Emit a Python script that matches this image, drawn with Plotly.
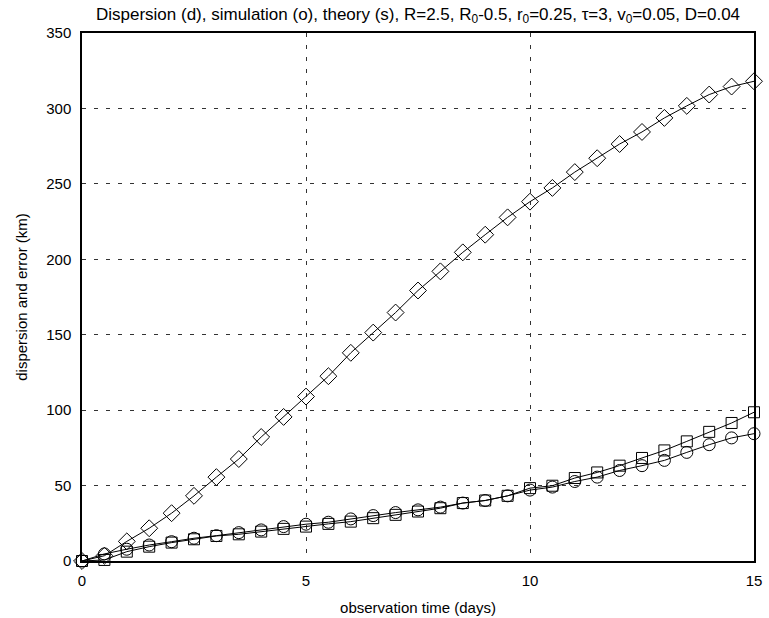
import plotly.graph_objects as go

# observation times (days), sampled every half day
days = [i * 0.5 for i in range(31)]

# dispersion (d)
dispersion = [0, 3.5, 13, 21.7, 31.7, 43.2, 55.6, 67.6, 82.2, 95.5,
              109, 122.5, 138, 151.4, 164.7, 179.3, 192, 204.6, 216.3, 227.8,
              238.2, 247.3, 257.8, 267, 276.4, 284.4, 293.7, 301.7, 309.2, 314.5,
              318]

# simulation error (o)
simulation = [0, 4.7, 7.8, 10.6, 12.8, 15.1, 16.8, 18.8, 20.6, 22.8,
              24.4, 25.7, 27.9, 30.1, 32.1, 33.9, 35.7, 38.4, 40.1, 43.2,
              47.0, 49.0, 52.7, 55.6, 60.0, 63.2, 66.7, 72.0, 77.1, 81.6,
              84.4]

# theoretical error (s)
theory = [0, 0.7, 6.2, 9.5, 12.2, 14.4, 16.6, 17.7, 19.5, 21.3,
          22.8, 24.6, 26.1, 28.4, 30.6, 32.8, 35.0, 38.4, 40.1, 43.2,
          48.3, 49.9, 55.0, 58.7, 63.2, 68.3, 73.3, 79.3, 85.6, 91.5,
          98.6]

x_ticks = [0, 5, 10, 15]
y_ticks = [0, 50, 100, 150, 200, 250, 300, 350]

FONT = "Liberation Sans, Arial, Helvetica, sans-serif"
TICK_SIZE = 15
LABEL_SIZE = 15
TITLE_SIZE = 17

fig = go.Figure()

series = [
    (dispersion, "diamond-open", 13, "dispersion (d)"),
    (theory, "square-open", 11, "theory (s)"),
    (simulation, "circle-open", 12, "simulation (o)"),
]
for values, symbol, size, name in series:
    fig.add_trace(go.Scatter(
        x=days, y=values, name=name, mode="lines+markers",
        line=dict(color="black", width=1),
        marker=dict(symbol=symbol, size=size, color="black",
                    line=dict(color="black", width=1)),
        cliponaxis=False,
    ))

axis_common = dict(
    showline=True, linecolor="black", linewidth=1.5, mirror=True,
    showgrid=True, gridcolor="#333333", griddash="4px,8px", gridwidth=1,
    zeroline=False, ticks="", color="black", automargin=False,
    tickfont=dict(family=FONT, size=TICK_SIZE, color="black"),
)

fig.update_layout(
    width=769, height=618,
    paper_bgcolor="white", plot_bgcolor="white",
    showlegend=False,
    margin=dict(l=82, r=15, t=33, b=57),
    font=dict(family=FONT, size=TICK_SIZE, color="black"),
    title=dict(
        text="Dispersion (d), simulation (o), theory (s), R=2.5, R<sub>0</sub>-0.5, "
             "r<sub>0</sub>=0.25, τ=3, v<sub>0</sub>=0.05, D=0.04",
        x=0.5436, xanchor="center", y=0.978, yanchor="middle",
        font=dict(family=FONT, size=TITLE_SIZE, color="black"),
    ),
    xaxis=dict(range=[0, 15], tickvals=x_ticks, ticklabelstandoff=5,
               title=dict(text="observation time (days)",
                          font=dict(family=FONT, size=LABEL_SIZE)),
               **axis_common),
    yaxis=dict(range=[0, 350], tickvals=y_ticks, ticklabelstandoff=6,
               title=dict(text="dispersion and error (km)",
                          font=dict(family=FONT, size=LABEL_SIZE)),
               **axis_common),
)

fig.write_html("out.html")
